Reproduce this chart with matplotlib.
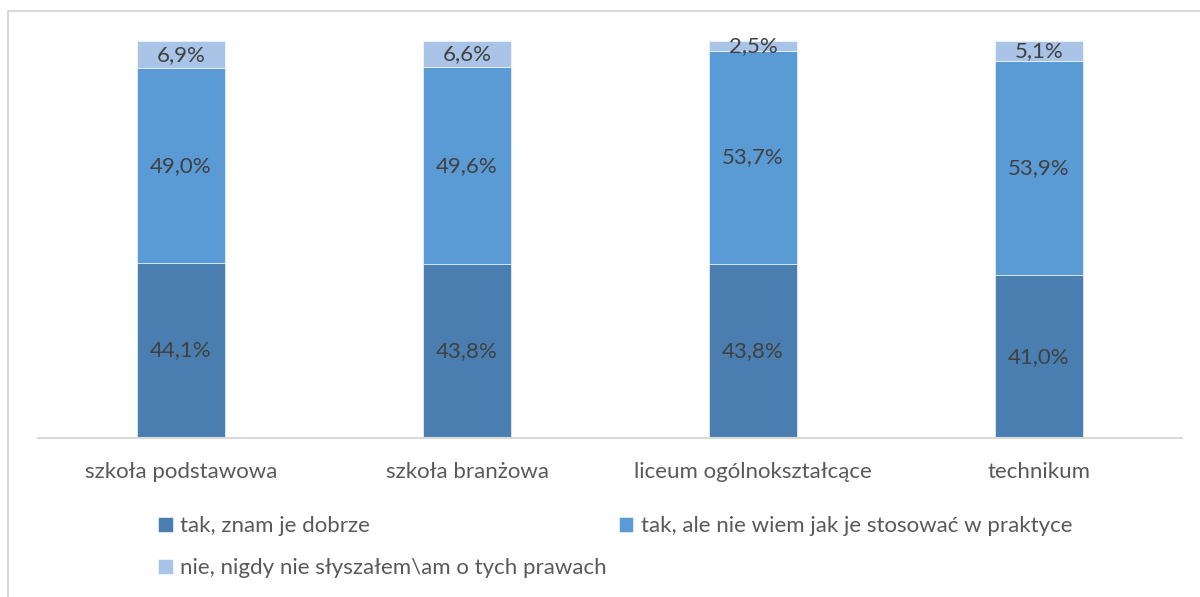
import matplotlib.pyplot as plt
import matplotlib.patches as patches
import numpy as np

plt.rcParams['font.family'] = ['Lato', 'DejaVu Sans']

# data (percent)
schools = ['szkoła podstawowa', 'szkoła branżowa', 'liceum ogólnokształcące', 'technikum']
know_well = [44.1, 43.8, 43.8, 41.0]
know_no_practice = [49.0, 49.6, 53.7, 53.9]
never_heard = [6.9, 6.6, 2.5, 5.1]
series_names = ['tak, znam je dobrze',
                'tak, ale nie wiem jak je stosować w praktyce',
                'nie, nigdy nie słyszałem\\am o tych prawach']
colors = ['#4A7EB0', '#5B9BD5', '#A9C4E6']

fig = plt.figure(figsize=(12, 5.97), dpi=100)
ax = fig.add_axes([0.0317, 0.2663, 0.9533, 0.665])

x = np.arange(len(schools))
w = 0.31
bottom = np.zeros(len(schools))
bars = []
for vals, c in zip([know_well, know_no_practice, never_heard], colors):
    b = ax.bar(x, vals, w, bottom=bottom, color=c, edgecolor='white', linewidth=0.4)
    bars.append(b)
    for xi, v, b0 in zip(x, vals, bottom):
        ax.text(xi, b0 + v / 2, f'{v:.1f}%'.replace('.', ','), ha='center', va='center',
                fontsize=16, color='#404040')
    bottom = bottom + np.array(vals)

ax.set_xlim(-0.5, len(schools) - 0.5)
ax.set_ylim(0, 100)
ax.set_xticks(x)
ax.set_xticklabels(schools, fontsize=16, color='#595959')
ax.tick_params(axis='x', length=0, pad=17)
ax.set_yticks([])
for s in ['top', 'right', 'left']:
    ax.spines[s].set_visible(False)
ax.spines['bottom'].set_color('#D9D9D9')
ax.spines['bottom'].set_linewidth(1.5)

handles = [bars[0], bars[2], bars[1]]
labels = [series_names[0], series_names[2], series_names[1]]
leg = fig.legend(handles, labels, ncol=2, loc='upper left',
                 bbox_to_anchor=(0.1225, 0.154), frameon=False, fontsize=16,
                 handlelength=0.65, handleheight=0.65, handletextpad=0.35,
                 columnspacing=0.54, labelspacing=1.0, borderpad=0)
for t in leg.get_texts():
    t.set_color('#595959')

# outer chart frame (partly cut off at right/bottom)
frame = patches.Rectangle((8 / 1200, -0.1), 1.2, 1 - 11 / 597 + 0.1,
                          transform=fig.transFigure, fill=False,
                          edgecolor='#D9D9D9', linewidth=1.5, clip_on=False)
fig.patches.append(frame)

fig.savefig('out.png', dpi=100)
